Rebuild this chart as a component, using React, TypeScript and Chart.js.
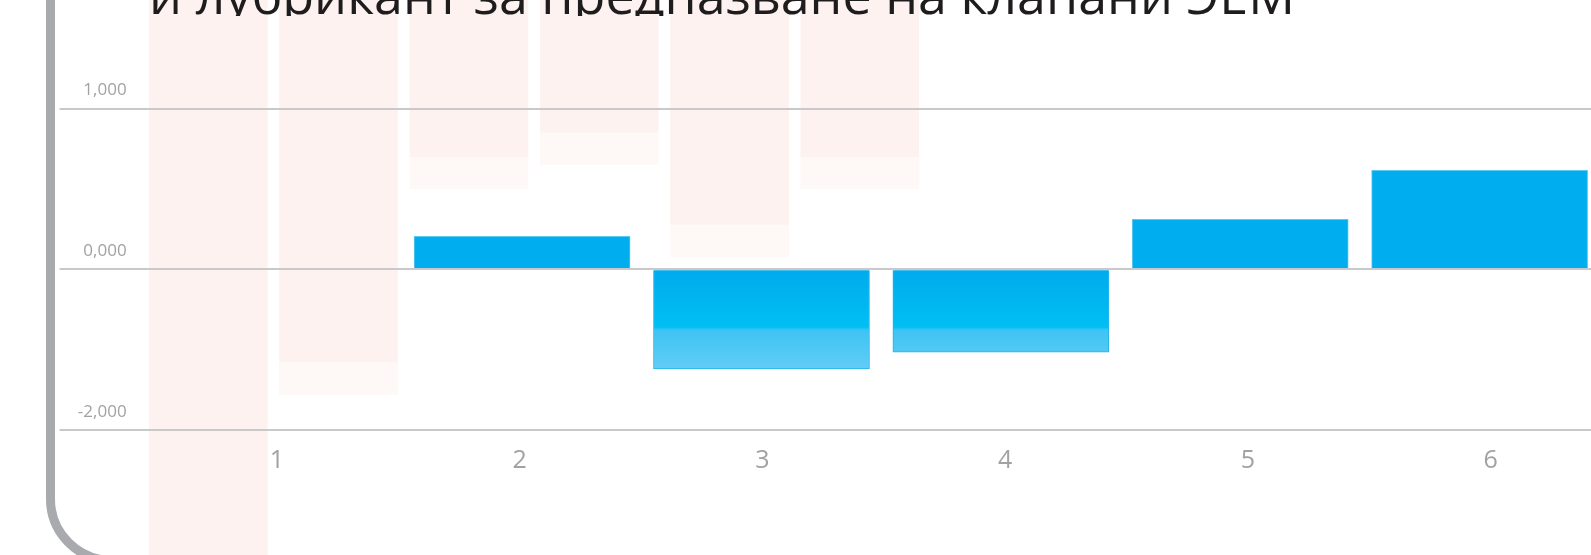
import React, { useEffect, useRef } from "react";
import { Chart, registerables } from "chart.js";

Chart.register(...registerables);

// ---- data ----
const categories = ["1", "2", "3", "4", "5", "6"];
const yTickValues = [-1, 0, 1];
const yTickLabels = ["-2,000", "0,000", "1,000"];
const seriesValues: (number | null)[] = [null, 0.205, -0.62, -0.516, 0.311, 0.615];
const bgTop = [2.2, 2.2, 2.2, 2.2, 2.2, 2.2];
const bgDarkBottom = [-2, -0.58, 0.697, 0.848, 0.274, 0.697];
const bgLightBottom = [-2, -0.779, 0.501, 0.652, 0.076, 0.501];
const titleText = "и лубрикант за предпазване на клапани ЭЕМ";

const FONT = "'Open Sans', 'Noto Sans', sans-serif";
const CANVAS_W = 1612;
const CANVAS_H = 555;

export default function App() {
  const ref = useRef<HTMLCanvasElement | null>(null);

  useEffect(() => {
    if (!ref.current) return;
    const minVal = Math.min(...(seriesValues.filter((v) => v !== null) as number[]));
    const chart = new Chart(ref.current, {
      type: "bar",
      data: {
        labels: categories,
        datasets: [
          {
            label: "bg-dark",
            xAxisID: "xp",
            data: categories.map((_, i) => ({ x: i, y: [bgTop[i], bgDarkBottom[i]] })) as any,
            backgroundColor: "#fdf2ef",
            borderWidth: 0,
            barThickness: 118,
            grouped: false,
            clip: false as any,
            order: 3,
          },
          {
            label: "bg-light",
            xAxisID: "xp",
            data: categories.map((_, i) => ({ x: i, y: [bgDarkBottom[i], bgLightBottom[i]] })) as any,
            backgroundColor: "#fef8f6",
            borderWidth: 0,
            barThickness: 118,
            grouped: false,
            clip: false as any,
            order: 2,
          },
          {
            label: "values",
            xAxisID: "xb",
            data: seriesValues.map((v, i) => ({ x: i, y: v })) as any,
            barThickness: 216,
            grouped: false,
            order: 1,
            borderWidth: 1,
            borderSkipped: "start",
            borderColor: (c: any) => ((c.parsed?.y ?? 0) >= 0 ? "#5cc9f2" : "#22b4ee"),
            backgroundColor: (c: any) => {
              const v = c.parsed?.y ?? 0;
              if (v >= 0) return "#00adee";
              const ys = c.chart.scales?.y;
              if (!ys) return "#00b4f0";
              const g = c.chart.ctx.createLinearGradient(0, ys.getPixelForValue(0), 0, ys.getPixelForValue(minVal));
              g.addColorStop(0, "#00abed");
              g.addColorStop(0.58, "#00bff3");
              g.addColorStop(0.61, "#3ec4f4");
              g.addColorStop(1, "#62ccf6");
              return g;
            },
          },
        ],
      },
      options: {
        responsive: false,
        animation: false,
        layout: { padding: { top: 108.5, left: 0, right: 0, bottom: 0 } },
        plugins: {
          legend: { display: false },
          tooltip: { enabled: false },
          title: { display: false },
        },
        scales: {
          x: {
            type: "category",
            offset: true,
            grid: { display: false, drawTicks: false },
            border: { display: false },
            ticks: {
              color: "#a2a2a4",
              font: { family: FONT, size: 25 },
              padding: 16,
              maxRotation: 0,
              autoSkip: false,
            },
            afterFit: (s: any) => {
              s.height = 125;
            },
          },
          xb: {
            type: "linear",
            display: false,
            offset: false,
            grid: { offset: false },
            bounds: "data",
            min: -0.531,
            max: 5.553,
          },
          xp: {
            type: "linear",
            display: false,
            offset: false,
            grid: { offset: false },
            bounds: "data",
            min: -0.404,
            max: 10.772,
          },
          y: {
            type: "linear",
            min: -1,
            max: 1,
            border: { display: false },
            grid: {
              color: "#c9c9c9",
              lineWidth: 2,
              drawTicks: true,
              tickLength: 96,
              z: 1,
            } as any,
            ticks: {
              stepSize: 1,
              padding: -67,
              labelOffset: -18,
              color: "#a2a2a4",
              font: { family: FONT, size: 17 },
              callback: (val: any) => {
                const idx = yTickValues.indexOf(Number(val));
                return idx >= 0 ? yTickLabels[idx] : "";
              },
            },
            afterBuildTicks: (axis: any) => {
              axis.ticks = yTickValues.map((v) => ({ value: v }));
            },
            afterFit: (s: any) => {
              s.width = 155.6;
            },
          },
        },
      } as any,
    });
    return () => chart.destroy();
  }, []);

  return (
    <div
      style={{
        position: "fixed",
        left: 0,
        top: 0,
        width: 1591,
        height: 555,
        overflow: "hidden",
        background: "#ffffff",
      }}
    >
      <div
        style={{
          position: "absolute",
          left: 46,
          top: -300,
          width: 3000,
          height: 865,
          border: "9px solid #a9aaae",
          borderRadius: 66,
          boxSizing: "border-box",
        }}
      />
      <canvas
        ref={ref}
        width={CANVAS_W}
        height={CANVAS_H}
        style={{ position: "absolute", left: 0, top: 0, width: CANVAS_W, height: CANVAS_H }}
      />
      <div
        style={{
          position: "absolute",
          left: 0,
          top: 0,
          width: 1591,
          height: 16,
          overflow: "hidden",
          pointerEvents: "none",
        }}
      >
        <div
          style={{
            position: "absolute",
            left: 149,
            top: -32,
            fontFamily: FONT,
            fontSize: 52,
            lineHeight: "52px",
            whiteSpace: "nowrap",
            color: "#1f1c1d",
          }}
        >
          {titleText}
        </div>
      </div>
    </div>
  );
}
